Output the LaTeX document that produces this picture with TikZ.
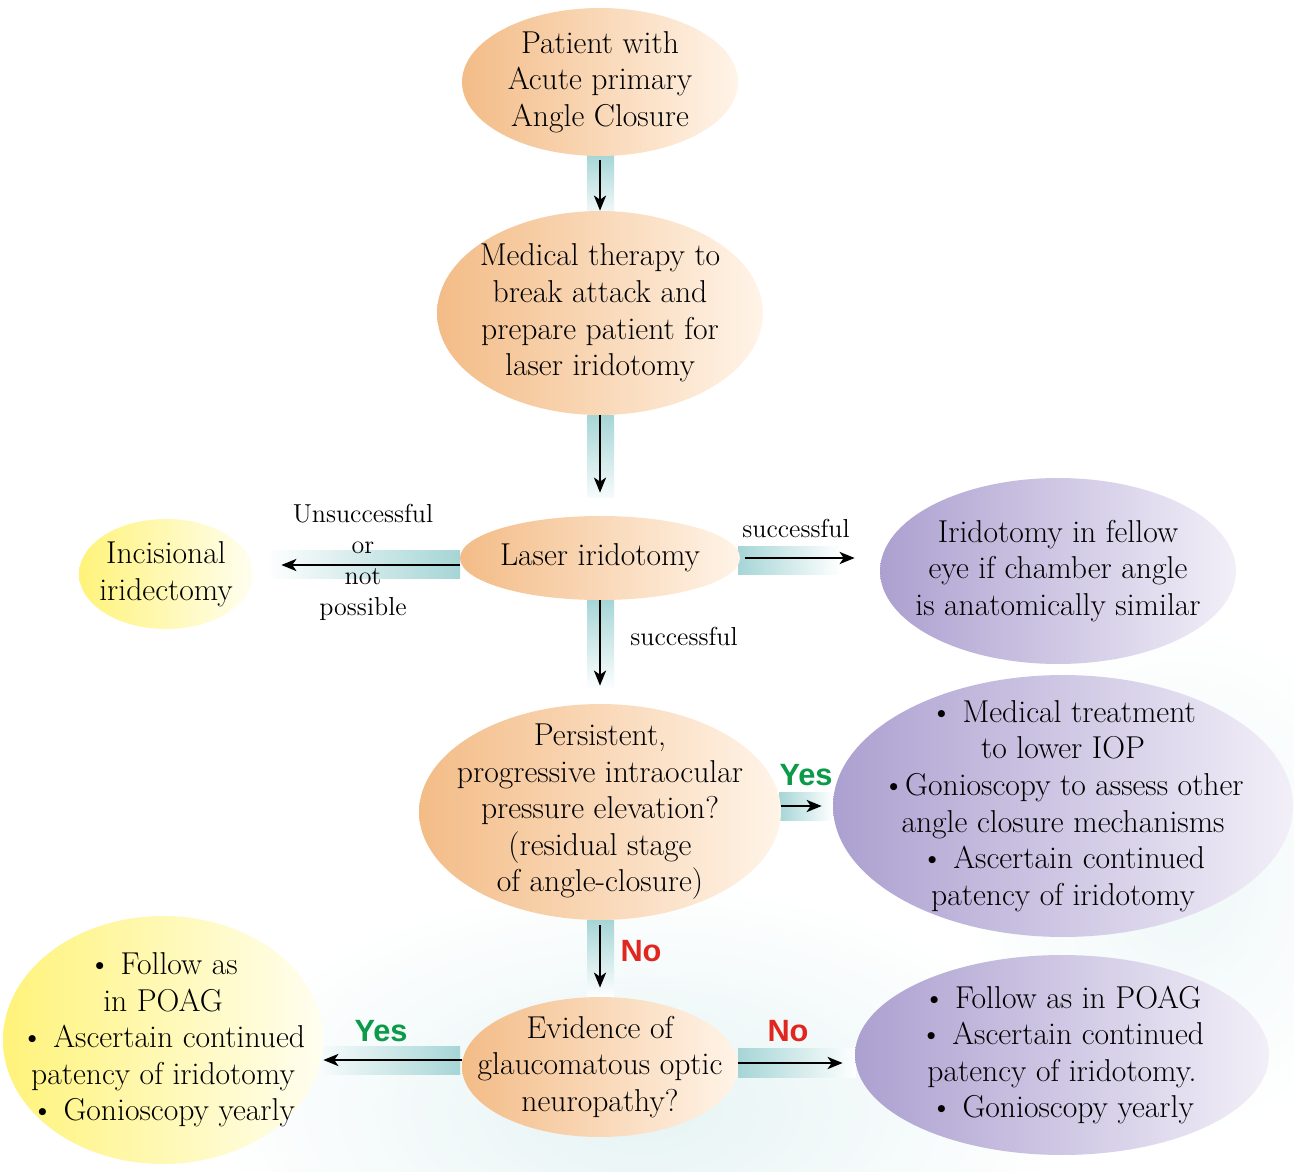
\documentclass[tikz,border=0pt]{standalone}
\usepackage{fontspec}
\setsansfont{Liberation Sans}
\usepackage{xcolor}
\usetikzlibrary{shapes.geometric,arrows.meta,positioning,calc}

\definecolor{peachL}{HTML}{F3BC87}
\definecolor{peachR}{HTML}{FFF4E8}
\definecolor{lilacL}{HTML}{ACA0D0}
\definecolor{lilacR}{HTML}{F2EFF8}
\definecolor{lemonL}{HTML}{FFF37A}
\definecolor{lemonR}{HTML}{FFFEF0}
\definecolor{bandteal}{HTML}{A6D5D6}
\definecolor{yesgreen}{HTML}{0B9A48}
\definecolor{nored}{HTML}{E0261F}

\tikzset{
  bubble/.style={ellipse, inner sep=-1cm, align=center, font=\fontsize{18}{20.8}\selectfont},
  peach/.style={bubble, left color=peachL, right color=peachR},
  lilac/.style={bubble, left color=lilacL, right color=lilacR},
  lemon/.style={bubble, left color=lemonL, right color=lemonR},
  flow/.style={-{Stealth[length=0.3cm,width=0.24cm,inset=0.08cm]}, line width=1.6pt},
  tag/.style={font=\fontsize{14.8}{17.6}\selectfont, align=center},
  yes/.style={font=\sffamily\bfseries\fontsize{17.5}{20}\selectfont, text=yesgreen},
  no/.style={font=\sffamily\bfseries\fontsize{17.5}{20}\selectfont, text=nored},
}

\begin{document}
\begin{tikzpicture}[x=0.02cm, y=-0.02cm]
% Page and background wash
\fill[white] (0,0) rectangle (1294,1172);
\useasboundingbox (0,0) rectangle (1294,1172);
\shade[inner color=bandteal!28, outer color=white] (640,1110) ellipse (430 and 230);
\shade[inner color=bandteal!18, outer color=white] (1180,880) ellipse (220 and 260);

% Bands behind the arrows
\shade[top color=bandteal, bottom color=bandteal!15] (587,155) rectangle (614,212);
\shade[top color=bandteal, bottom color=bandteal!10] (587,415) rectangle (614,497);
\shade[left color=white, right color=bandteal] (266,550) rectangle (460,578);
\shade[left color=bandteal, right color=white] (738,546) rectangle (840,574);
\shade[top color=bandteal, bottom color=white] (587,600) rectangle (614,690);
\shade[left color=bandteal, right color=white] (779,792) rectangle (833,820);
\shade[top color=bandteal, bottom color=white] (587,920) rectangle (614,998);
\shade[left color=white, right color=bandteal] (307,1046) rectangle (460,1074);
\shade[left color=bandteal, right color=white] (738,1048) rectangle (856,1077);

% Main column
\node[peach, minimum width=5.52cm, minimum height=2.96cm] (pat) at (600,82)
  {Patient with\\Acute primary\\Angle Closure};
\node[peach, minimum width=6.52cm, minimum height=4.08cm] (med) at (600,313)
  {Medical therapy to\\break attack and\\prepare patient for\\laser iridotomy};
\node[peach, minimum width=5.6cm, minimum height=1.68cm] (laser) at (600,558)
  {Laser iridotomy};
\node[peach, minimum width=7.24cm, minimum height=4.32cm] (pers) at (600,812)
  {Persistent,\\progressive intraocular\\pressure elevation?\\(residual stage\\of angle-closure)};
\node[peach, minimum width=5.52cm, minimum height=2.8cm] (evid) at (600,1067)
  {Evidence of\\glaucomatous optic\\neuropathy?};

% Side outcomes
\node[lemon, minimum width=3.48cm, minimum height=2.2cm] (incis) at (166,574)
  {Incisional\\iridectomy};
\node[lilac, minimum width=7.12cm, minimum height=3.72cm] (fellow) at (1058,571)
  {Iridotomy in fellow\\eye if chamber angle\\is anatomically similar};
\node[lilac, minimum width=9.2cm, minimum height=5.24cm] (treat) at (1063,806)
  {\textbullet{} Medical treatment\\to lower IOP\\\textbullet Gonioscopy to assess other\\angle closure mechanisms\\\textbullet{} Ascertain continued\\patency of iridotomy};
\node[lemon, minimum width=6.4cm, minimum height=4.96cm] (followL) at (163,1040)
  {\textbullet{} Follow as\\in POAG\\\textbullet{} Ascertain continued\\patency of iridotomy\\\textbullet{} Gonioscopy yearly};
\node[lilac, minimum width=8.28cm, minimum height=4cm] (followR) at (1062,1055)
  {\textbullet{} Follow as in POAG\\\textbullet{} Ascertain continued\\patency of iridotomy.\\\textbullet{} Gonioscopy yearly};

% Arrows
\coordinate (lw) at ($(laser.west)+(0,7)$);
\coordinate (pe) at ($(pers.east)+(0,-6)$);
\coordinate (ew) at ($(evid.west)+(0,-7)$);
\coordinate (ee) at ($(evid.east)+(0,-4)$);
\draw[flow, shorten <=2pt] (pat.south) -- (med.north);
\draw[flow, shorten >=0.46cm] (med.south) -- (laser.north);
\draw[flow, shorten >=0.56cm] (lw) -- (lw -| incis.east);
\draw[flow, shorten <=0.1cm, shorten >=0.5cm] (laser.east) -- (laser.east -| fellow.west);
\draw[flow, shorten >=0.36cm] (laser.south) -- (pers.north);
\draw[flow, shorten >=0.22cm] (pe) -- (pe -| treat.west);
\draw[flow, shorten <=0.1cm, shorten >=0.18cm] (pers.south) -- (evid.north);
\draw[flow] (ew) -- (ew -| followL.east);
\draw[flow, shorten >=0.24cm] (ee) -- (ee -| followR.west);

% Arrow labels
\node[tag] (unsucc) at (363,562) {Unsuccessful\\or\\not\\possible};
\node[tag] (succR) at (796,528) {successful};
\node[tag] (succD) at (684,636) {successful};
\node[yes] (yesR) at (806,775) {Yes};
\node[no] (noD) at (641,951) {No};
\node[yes] (yesL) at (381,1031) {Yes};
\node[no] (noR) at (788,1031) {No};
\end{tikzpicture}
\end{document}
